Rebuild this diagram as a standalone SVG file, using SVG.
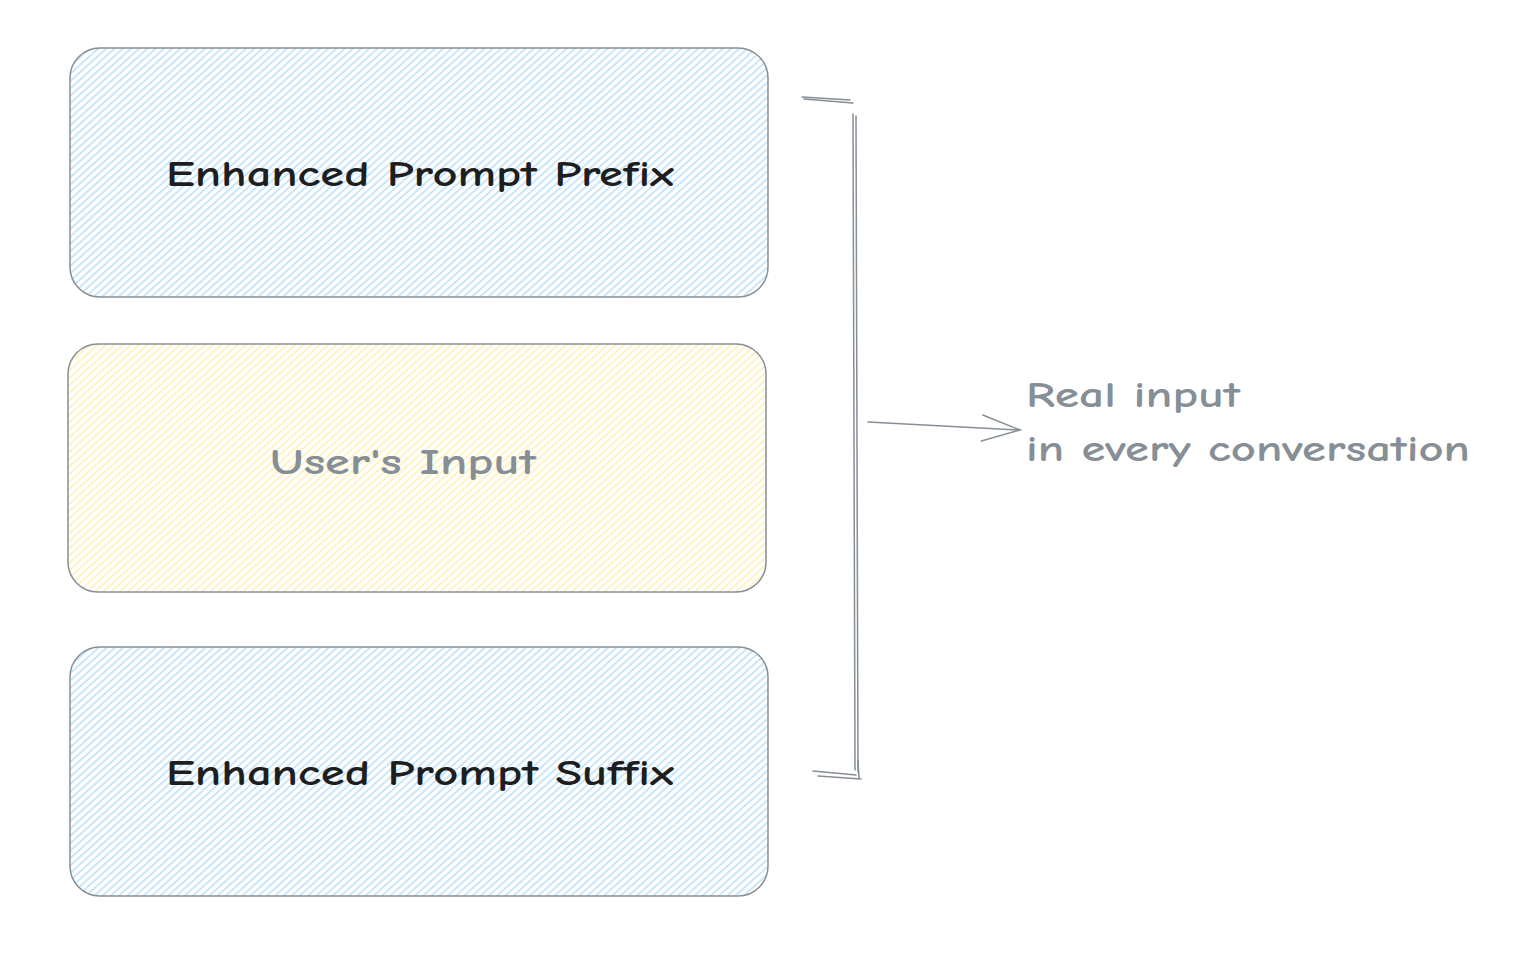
<svg xmlns="http://www.w3.org/2000/svg" width="1530" height="970" viewBox="0 0 1530 970">
<defs>
<style>
.box{stroke:#868e96;stroke-width:1.5;}
.edge{fill:none;stroke:#868e96;stroke-width:1.5;stroke-linecap:round;}
.t{font-family:"Comic Neue","Liberation Sans",sans-serif;font-size:36px;text-anchor:middle;font-weight:bold;}
.dark{fill:#1e1e1e;}
.gray{fill:#868e96;}
.side{font-family:"Comic Neue","Liberation Sans",sans-serif;font-size:36px;fill:#868e96;font-weight:bold;}
</style>
<pattern id="hBlue" patternUnits="userSpaceOnUse" width="5.5" height="5.5" patternTransform="rotate(-42)">
<rect width="5.5" height="5.5" fill="#ffffff"/>
<line x1="0" y1="2.75" x2="5.5" y2="2.75" stroke="#a5d8ff" stroke-width="1.2"/>
</pattern>
<pattern id="hYellow" patternUnits="userSpaceOnUse" width="5.5" height="5.5" patternTransform="rotate(-42)">
<rect width="5.5" height="5.5" fill="#ffffff"/>
<line x1="0" y1="2.75" x2="5.5" y2="2.75" stroke="#ffec99" stroke-width="1.2"/>
</pattern>
<marker id="arr" markerWidth="44" markerHeight="34" refX="40" refY="17" orient="auto" markerUnits="userSpaceOnUse">
<path d="M2,4 L40,17 L2,30" fill="none" stroke="#868e96" stroke-width="1.5" stroke-linecap="round"/>
</marker>
</defs>
<rect width="1530" height="970" fill="#ffffff"/>
<g id="prefix">
<rect class="box" x="70" y="48" width="698" height="249" rx="30" fill="url(#hBlue)"/>
<text class="t dark" x="420" y="186" textLength="508" lengthAdjust="spacingAndGlyphs">Enhanced Prompt Prefix</text>
</g>
<g id="user-input">
<rect class="box" x="68" y="344" width="698" height="248" rx="30" fill="url(#hYellow)"/>
<text class="t gray" x="403" y="474" textLength="266" lengthAdjust="spacingAndGlyphs">User's Input</text>
</g>
<g id="suffix">
<rect class="box" x="70" y="647" width="698" height="249" rx="30" fill="url(#hBlue)"/>
<text class="t dark" x="420" y="785" textLength="508" lengthAdjust="spacingAndGlyphs">Enhanced Prompt Suffix</text>
</g>
<g id="label">
<text class="side" x="1026" y="407" textLength="214" lengthAdjust="spacingAndGlyphs">Real input</text>
<text class="side" x="1026" y="461" textLength="444" lengthAdjust="spacingAndGlyphs">in every conversation</text>
</g>
<g id="connectors">
<path class="edge" d="M802,97 L850,100 M804,99 L853,103"/>
<path class="edge" d="M853,114 L855,770 M856,116 L858,772"/>
<path class="edge" d="M813,771 L856,775 M818,776 L861,779 M859,778 L858,760"/>
<path class="edge" d="M868,422 L1020,430" marker-end="url(#arr)"/>
</g>
</svg>
